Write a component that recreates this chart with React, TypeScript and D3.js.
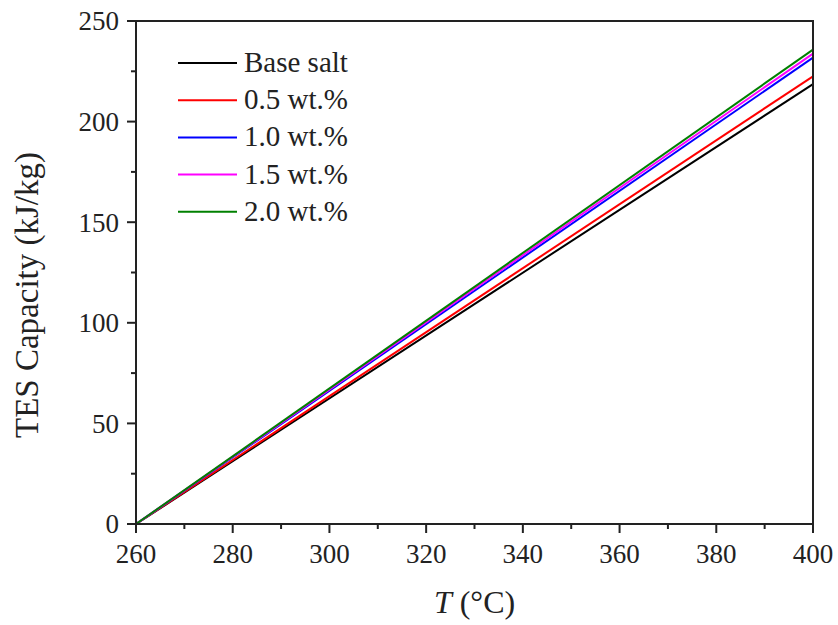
import React, { useEffect, useRef } from 'react';
import * as d3 from 'd3';

// series: capacity at 260 °C and 400 °C (straight lines)
const temps = [260, 400];
const seriesNames = ['Base salt', '0.5 wt.%', '1.0 wt.%', '1.5 wt.%', '2.0 wt.%'];
const seriesColors = ['#000000', '#ff0000', '#0000ff', '#ff00ff', '#008000'];
const baseSalt = [0, 218.6];
const wt05 = [0, 222.5];
const wt10 = [0, 231.8];
const wt15 = [0, 233.8];
const wt20 = [0, 235.8];
const xTicks = [260, 280, 300, 320, 340, 360, 380, 400];
const yTicks = [0, 50, 100, 150, 200, 250];

const App = () => {
  const svgRef = useRef<SVGSVGElement | null>(null);
  const width = 838;
  const height = 625;
  const margin = { top: 21, right: 25, bottom: 101, left: 136 };

  useEffect(() => {
    const svg = d3.select(svgRef.current);
    svg.selectAll('*').remove();
    const font = 'Liberation Serif, DejaVu Serif, serif';

    const x = d3.scaleLinear().domain([260, 400]).range([margin.left, width - margin.right]);
    const y = d3.scaleLinear().domain([0, 250]).range([height - margin.bottom, margin.top]);

    const allSeries = [baseSalt, wt05, wt10, wt15, wt20];

    // lines
    const line = d3.line<number>()
      .x((_, i) => x(temps[i]))
      .y((d) => y(d));
    allSeries.forEach((s, k) => {
      svg.append('path')
        .attr('d', line(s) as string)
        .attr('fill', 'none')
        .attr('stroke', seriesColors[k])
        .attr('stroke-width', 2);
    });

    // frame
    svg.append('rect')
      .attr('x', x(260)).attr('y', y(250))
      .attr('width', x(400) - x(260)).attr('height', y(0) - y(250))
      .attr('fill', 'none').attr('stroke', '#222').attr('stroke-width', 2);

    // x axis ticks
    const xMinor = d3.range(270, 400, 20);
    xTicks.forEach((t) => {
      svg.append('line').attr('x1', x(t)).attr('x2', x(t))
        .attr('y1', y(0)).attr('y2', y(0) + 9).attr('stroke', '#222').attr('stroke-width', 2);
      svg.append('text').attr('x', x(t)).attr('y', y(0) + 39)
        .attr('text-anchor', 'middle').attr('font-family', font).attr('font-size', 27)
        .attr('fill', '#222').text(t);
    });
    xMinor.forEach((t) => {
      svg.append('line').attr('x1', x(t)).attr('x2', x(t))
        .attr('y1', y(0)).attr('y2', y(0) + 5).attr('stroke', '#222').attr('stroke-width', 2);
    });

    // y axis ticks
    const yMinor = d3.range(25, 250, 50);
    yTicks.forEach((t) => {
      svg.append('line').attr('x1', x(260) - 9).attr('x2', x(260))
        .attr('y1', y(t)).attr('y2', y(t)).attr('stroke', '#222').attr('stroke-width', 2);
      svg.append('text').attr('x', x(260) - 17).attr('y', y(t)).attr('dy', '0.35em')
        .attr('text-anchor', 'end').attr('font-family', font).attr('font-size', 27)
        .attr('fill', '#222').text(t);
    });
    yMinor.forEach((t) => {
      svg.append('line').attr('x1', x(260) - 5).attr('x2', x(260))
        .attr('y1', y(t)).attr('y2', y(t)).attr('stroke', '#222').attr('stroke-width', 2);
    });

    // axis titles
    const xt = svg.append('text').attr('x', (x(260) + x(400)) / 2).attr('y', 613)
      .attr('text-anchor', 'middle').attr('font-family', font).attr('font-size', 32)
      .attr('fill', '#222');
    xt.append('tspan').attr('font-style', 'italic').text('T');
    xt.append('tspan').text(' (°C)');

    svg.append('text')
      .attr('transform', `translate(38, 295) rotate(-90)`)
      .attr('text-anchor', 'middle').attr('font-family', font).attr('font-size', 33)
      .attr('fill', '#222').text('TES Capacity (kJ/kg)');

    // legend
    seriesNames.forEach((name, k) => {
      const ly = 63 + k * 37.2;
      svg.append('line').attr('x1', 178).attr('x2', 237).attr('y1', ly).attr('y2', ly)
        .attr('stroke', seriesColors[k]).attr('stroke-width', 2);
      svg.append('text').attr('x', 244).attr('y', ly).attr('dy', '0.31em')
        .attr('font-family', font).attr('font-size', 29).attr('fill', '#222').text(name);
    });
  }, []);

  return (
    <svg ref={svgRef} width={width} height={height}
      style={{ position: 'absolute', left: 0, top: 0, background: '#fff' }} />
  );
};

export default App;
